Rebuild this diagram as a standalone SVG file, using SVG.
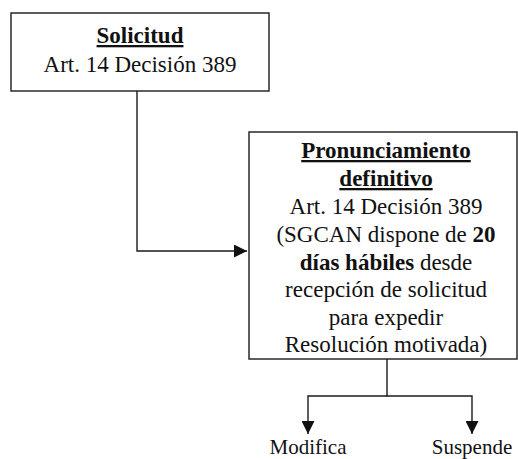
<svg xmlns="http://www.w3.org/2000/svg" width="518" height="459" viewBox="0 0 518 459" font-family="Liberation Serif, Tinos, Times New Roman, Times, DejaVu Serif, Noto Serif, FreeSerif, serif">
<style>
.box{fill:#fff;stroke:#1a1a1a;stroke-width:1.4}
.t{font-size:23px;fill:#111;text-anchor:middle}
.b{font-weight:bold}
.u{text-decoration:underline}
.lbl{font-size:21px;fill:#111;text-anchor:middle}
.c{fill:none;stroke:#1a1a1a;stroke-width:1.4}
</style>
<defs>
<marker id="ah" markerWidth="13" markerHeight="13" refX="13" refY="6.5" orient="auto" markerUnits="userSpaceOnUse">
<path d="M0,0 L13,6.5 L0,13 Z" fill="#111"/>
</marker>
</defs>
<g id="connectors">
<path class="c" d="M137,91 V251 H247" marker-end="url(#ah)"/>
<path class="c" d="M387,359 V396 H472 V434" marker-end="url(#ah)"/>
<path class="c" d="M387,396 H308 V434" marker-end="url(#ah)"/>
</g>
<g id="solicitud">
<rect class="box" x="11" y="13" width="258" height="78"/>
<text class="t" x="140" y="43"><tspan class="b u">Solicitud</tspan></text>
<text class="t" x="140" y="72">Art. 14 Decisión 389</text>
</g>
<g id="pronunciamiento">
<rect class="box" x="249" y="132" width="268" height="227"/>
<text class="t" x="386" y="158"><tspan class="b u">Pronunciamiento</tspan></text>
<text class="t" x="386" y="186"><tspan class="b u">definitivo</tspan></text>
<text class="t" x="386" y="214">Art. 14 Decisión 389</text>
<text class="t" x="386" y="242">(SGCAN dispone de <tspan class="b">20</tspan></text>
<text class="t" x="386" y="270"><tspan class="b">días hábiles</tspan> desde</text>
<text class="t" x="386" y="297">recepción de solicitud</text>
<text class="t" x="386" y="325">para expedir</text>
<text class="t" x="386" y="352">Resolución motivada)</text>
</g>
<g id="modifica">
<text class="lbl" x="308" y="454">Modifica</text>
</g>
<g id="suspende">
<text class="lbl" x="472" y="454">Suspende</text>
</g>
</svg>
